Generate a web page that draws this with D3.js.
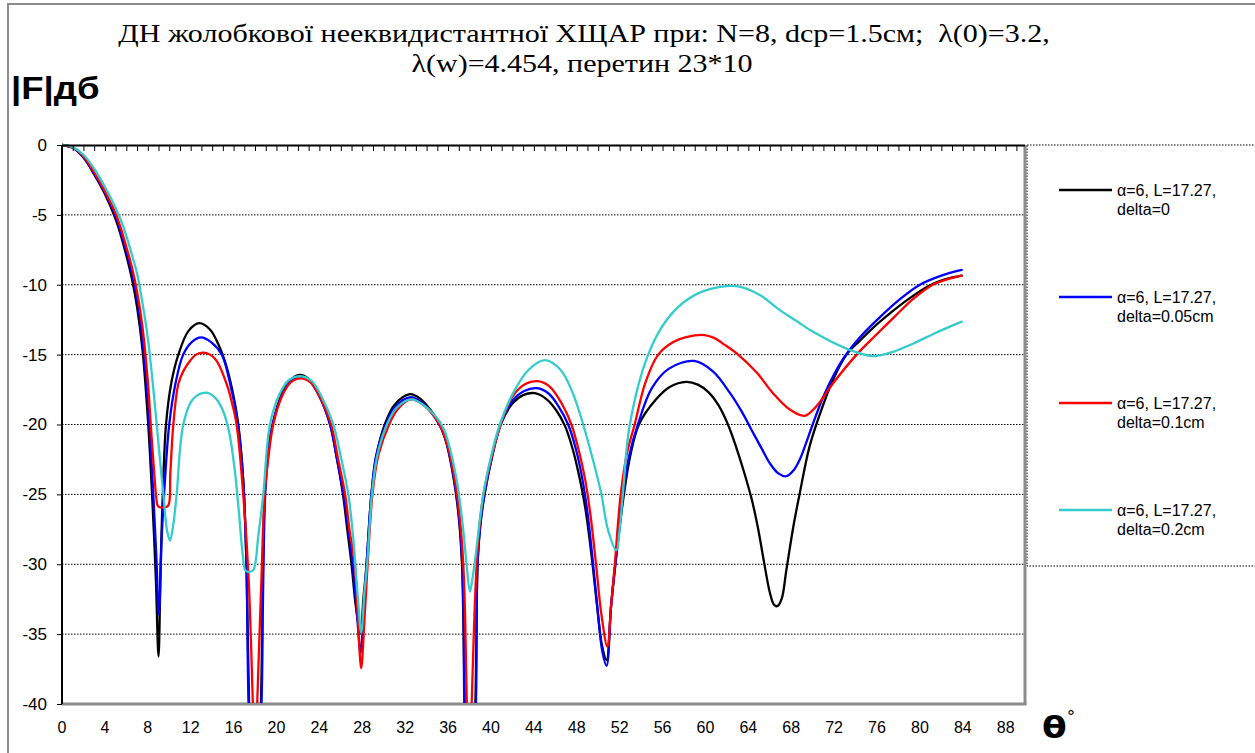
<!DOCTYPE html>
<html>
<head>
<meta charset="utf-8">
<script src="https://cdn.jsdelivr.net/npm/d3@7"></script>
<style>
  html, body { margin: 0; padding: 0; background: #fff; }
  svg { display: block; }
</style>
</head>
<body>
<svg id="chart" width="1255" height="753"></svg>
<script>
// ---------------- DATA ----------------
const titleLines = ["ДН жолобкової нееквидистантної ХЩАР при: N=8, dcp=1.5см;  λ(0)=3.2,", "λ(w)=4.454, перетин 23*10"];
const yLabel = "|F|дб";
const xTickValues = [0,4,8,12,16,20,24,28,32,36,40,44,48,52,56,60,64,68,72,76,80,84,88];
const yTickValues = [0,-5,-10,-15,-20,-25,-30,-35,-40];
const seriesNames = [["α=6, L=17.27,", "delta=0"], ["α=6, L=17.27,", "delta=0.05cm"], ["α=6, L=17.27,", "delta=0.1cm"], ["α=6, L=17.27,", "delta=0.2cm"]];
const seriesColors = ["#000000", "#0000ff", "#ff0000", "#33cccc"];

// [theta (deg), |F| dB]
const delta0 = [[0,0],[1,-0.2],[2,-0.9],[3,-2.1],[4,-3.5],[5,-5.3],[5.5,-6.5],[6,-7.9],[6.5,-9.5],[7,-11.6],[7.5,-14.6],[8,-19.5],[8.4,-25],[8.75,-31],[9.0,-36.6],[9.2,-30],[9.4,-25],[9.7,-20],[10.2,-17],[10.85,-15],[11.8,-13.3],[12.8,-12.75],[13.8,-13.2],[14.6,-14.3],[15.2,-15.5],[15.9,-17.6],[16.44,-20],[16.9,-24],[17.2,-30],[17.45,-40],[17.9,-52],[18.55,-40],[18.7,-32],[18.9,-25],[19.2,-22],[19.64,-20],[20.5,-17.8],[21.3,-16.8],[22.2,-16.45],[23.1,-16.8],[24,-17.9],[25,-20],[25.6,-22.3],[26.2,-25],[26.6,-27.5],[27.0,-30],[27.4,-33],[27.84,-34.95],[28.1,-32.5],[28.4,-30],[28.85,-25],[29.3,-22.3],[30.1,-20],[31,-18.6],[32.44,-17.83],[33.4,-18.15],[34.4,-19.0],[35.0,-19.7],[35.4,-20.3],[35.8,-21.2],[36.2,-22.5],[36.55,-24.0],[36.85,-25.6],[37.1,-27.5],[37.3,-30],[37.45,-35],[37.55,-40],[38.0,-55],[38.55,-40],[38.75,-30],[39.0,-27.2],[39.4,-25],[40.1,-22.3],[40.9,-20],[42,-18.5],[43,-17.9],[44.1,-17.76],[45.2,-18.2],[46.1,-19.0],[46.9,-20.1],[47.6,-21.7],[48.2,-23.6],[48.8,-26.0],[49.4,-29.5],[49.9,-33],[50.35,-35.8],[50.78,-36.84],[51.2,-33],[51.6,-30],[52.4,-25],[53.0,-22.2],[53.8,-20],[55.4,-18.2],[56.7,-17.3],[58.2,-16.95],[59.3,-17.15],[60.3,-17.7],[61.2,-18.6],[62.1,-20],[62.9,-21.7],[63.6,-23.4],[64.3,-25.3],[64.9,-27.4],[65.5,-30.0],[66.0,-32.0],[66.4,-32.9],[66.7,-33.0],[67.1,-32.5],[67.55,-30.4],[68.2,-27.3],[68.8,-24.9],[69.7,-21.6],[70.7,-19.2],[71.9,-16.8],[73.15,-15],[74.4,-14.0],[75.6,-13.1],[77.2,-12.05],[78.7,-11.15],[80.9,-10.05],[82.4,-9.6],[83.9,-9.35]];

const delta005 = [[0,0],[1,-0.2],[2,-0.85],[3,-2.05],[4,-3.4],[5,-5.1],[5.5,-6.3],[6,-7.6],[6.5,-9.1],[7,-11.0],[7.5,-13.9],[8,-18.3],[8.5,-24.8],[8.8,-29.5],[9.04,-33.6],[9.3,-28],[9.6,-24],[10.0,-20],[10.6,-17],[11.3,-15],[12.1,-14.1],[12.96,-13.76],[13.9,-14.1],[14.9,-15],[15.6,-16.8],[16.4,-20],[16.9,-24],[17.2,-30],[17.4,-40],[17.95,-50],[18.6,-40],[18.75,-32],[18.95,-25],[19.25,-22],[19.64,-20],[20.5,-17.9],[21.3,-16.9],[22.2,-16.55],[23.1,-16.9],[24,-18],[25,-20],[25.6,-22.3],[26.25,-25],[26.7,-27.5],[27.1,-30],[27.5,-33.5],[27.84,-36.36],[28.15,-33],[28.4,-30],[28.85,-25],[29.3,-22.2],[30.2,-20],[31,-18.8],[32.5,-18.05],[33.5,-18.4],[34.5,-19.2],[35.1,-19.9],[35.5,-20.5],[35.9,-21.4],[36.25,-22.6],[36.6,-24.1],[36.9,-25.7],[37.15,-27.7],[37.35,-30.5],[37.45,-34],[37.52,-40],[38.05,-52],[38.6,-40],[38.75,-30],[39.0,-27.3],[39.4,-25],[40.1,-22.3],[40.9,-20],[42,-18.3],[43.1,-17.6],[44.3,-17.4],[45.4,-17.8],[46.3,-18.7],[47.2,-20],[47.9,-21.7],[48.5,-23.8],[49.0,-26.3],[49.5,-29.8],[49.95,-33.3],[50.4,-36.3],[50.78,-37.27],[51.2,-33],[51.6,-30],[52.3,-25],[52.9,-22.2],[53.7,-20],[55,-17.4],[56.6,-16.0],[58.95,-15.45],[60.7,-16.2],[62.3,-17.76],[63.4,-19.1],[64.45,-20.6],[65.3,-21.8],[66.0,-22.77],[66.8,-23.5],[67.55,-23.7],[68.2,-23.3],[68.8,-22.5],[69.4,-21.3],[70.0,-20],[71.0,-18.0],[72.0,-16.4],[73.2,-14.9],[74.6,-13.6],[76.3,-12.3],[78.2,-11.0],[80.0,-10],[82,-9.35],[83.9,-8.94]];

const delta01 = [[0,0],[1,-0.18],[2,-0.8],[3,-1.95],[4,-3.3],[5,-4.9],[5.5,-6.0],[6,-7.3],[6.5,-8.7],[7,-10.5],[7.5,-13.0],[8,-16.9],[8.3,-20.3],[8.6,-23.5],[8.8,-25.3],[8.95,-25.85],[9.4,-25.95],[9.9,-25.8],[10.1,-23.5],[10.38,-20],[10.85,-17.1],[11.3,-16.2],[11.93,-15.45],[12.5,-15.0],[13.17,-14.85],[13.8,-15.0],[14.42,-15.45],[15.35,-17.1],[15.8,-18.3],[16.28,-20],[16.9,-25],[17.4,-31],[17.8,-40],[18.0,-45],[18.2,-40],[18.6,-31],[18.9,-25],[19.3,-22],[19.7,-20],[20.5,-18],[21.3,-17],[22.25,-16.7],[23.2,-17],[24.1,-18.1],[25.1,-20],[25.7,-22.3],[26.4,-25],[26.8,-27.5],[27.3,-30],[27.6,-34],[27.9,-37.43],[28.2,-34],[28.5,-30],[28.95,-25],[29.5,-22.2],[30.5,-20],[31.3,-18.9],[32.55,-18.2],[33.6,-18.55],[34.6,-19.3],[35.2,-20.0],[35.6,-20.7],[36.0,-21.6],[36.35,-22.8],[36.7,-24.3],[37.0,-26.0],[37.25,-28],[37.45,-30.5],[37.6,-34],[37.75,-40],[38.0,-45],[38.2,-40],[38.6,-31],[38.9,-27.5],[39.3,-25],[40.1,-22.2],[40.9,-20],[42,-18],[43.2,-17.1],[44.4,-16.9],[45.5,-17.3],[46.6,-18.5],[47.5,-20],[48.2,-21.9],[48.8,-24],[49.3,-26.6],[49.8,-30],[50.3,-33.6],[50.85,-35.9],[51.2,-33],[51.55,-30],[52.1,-25],[52.7,-22],[53.4,-20],[54.4,-17],[55.6,-15],[57,-14.1],[58.2,-13.75],[59.9,-13.6],[60.8,-13.8],[61.8,-14.3],[63.05,-15],[64.8,-16.3],[66.3,-17.76],[67.9,-18.95],[69.26,-19.38],[70.35,-18.7],[71.9,-17.05],[74.1,-15],[75.9,-13.6],[77.65,-12.28],[79.4,-11],[81.2,-10],[82.6,-9.6],[83.9,-9.35]];

const delta02 = [[0,0],[1,-0.15],[2,-0.7],[3,-1.7],[4,-3.0],[5,-4.5],[5.5,-5.4],[6,-6.5],[6.5,-7.8],[7,-9.2],[7.5,-11.3],[8,-13.8],[8.5,-17.3],[8.83,-20],[9.15,-22.6],[9.45,-25],[9.8,-27.6],[10.07,-28.3],[10.35,-27.3],[10.69,-25],[11.31,-20],[12.2,-18.2],[13.4,-17.72],[14.3,-18.1],[15.0,-19.0],[15.6,-20.6],[16.1,-23.2],[16.5,-26.3],[16.85,-29.3],[17.1,-30.45],[17.45,-30.55],[17.85,-30.4],[18.3,-28],[18.77,-25],[19.39,-20],[20.3,-17.8],[21.2,-16.8],[22.4,-16.55],[23.3,-16.9],[24.2,-18],[25.3,-20],[26.0,-22.3],[26.7,-25],[27.2,-28.5],[27.6,-32.5],[27.9,-34.9],[28.2,-32],[28.45,-30],[28.9,-25],[29.4,-22.2],[30.3,-20],[31.2,-18.8],[32.6,-18.2],[33.7,-18.6],[34.7,-19.3],[35.3,-19.9],[35.7,-20.5],[36.1,-21.5],[36.5,-22.8],[36.85,-24.2],[37.15,-25.8],[37.45,-27.8],[37.75,-30.2],[38.04,-31.95],[38.3,-30.9],[38.6,-29.2],[39.0,-26.6],[39.4,-24.5],[40.1,-22.0],[40.83,-20],[42.1,-17.7],[43.5,-16.1],[45.03,-15.4],[46.5,-16.1],[47.6,-17.7],[48.6,-20],[49.5,-22.5],[50.3,-25],[50.9,-27.5],[51.7,-29.0],[52.0,-27.5],[52.3,-25],[52.95,-20],[54.66,-15],[56.4,-12.5],[58.5,-10.97],[60.5,-10.3],[62.9,-10.1],[65.07,-10.73],[66.9,-11.8],[68.5,-12.6],[70.0,-13.35],[73.1,-14.55],[75.6,-15.1],[77.5,-14.8],[79.4,-14.2],[81.6,-13.4],[83.9,-12.64]];

const seriesData = [delta0, delta005, delta01, delta02];

// ---------------- LAYOUT ----------------
const svg = d3.select("#chart");
const plot = { left: 62, top: 145, right: 1025, bottom: 704 };

const x = d3.scaleLinear().domain([0, 89.8]).range([plot.left, plot.right]);
const y = d3.scaleLinear().domain([-40, 0]).range([plot.bottom, plot.top]);

// outer chart border
svg.append("rect").attr("x", 8).attr("y", 4).attr("width", 1270).attr("height", 780)
  .attr("fill", "none").attr("stroke", "#8c8c8c").attr("stroke-width", 2);

// title (horizontally fitted to the reference span)
const title = svg.append("g").attr("font-family", "'Liberation Serif', 'Times New Roman', serif").attr("fill", "#000");
const titlePos = [[584, 42], [582, 72]];
const titleTexts = titleLines.map((t, i) => title.append("text")
  .attr("text-anchor", "middle").attr("font-size", 25).style("white-space", "pre")
  .attr("transform", `translate(${titlePos[i][0]},${titlePos[i][1]})`).text(t));
const tw = titleTexts[0].node().getComputedTextLength();
const sx = 932 / tw;
titleTexts.forEach((t, i) => t.attr("transform", `translate(${titlePos[i][0]},${titlePos[i][1]}) scale(${sx},1)`));

// y axis label
svg.append("text").attr("transform", "translate(11,99) scale(1.18,1)")
  .attr("font-family", "'Liberation Sans', Arial, sans-serif").attr("font-weight", "bold").attr("font-size", 31)
  .text(yLabel);

// gridlines
svg.append("g").selectAll("line").data(yTickValues.filter(v => v !== 0 && v !== -40)).join("line")
  .attr("x1", plot.left).attr("x2", plot.right)
  .attr("y1", d => y(d)).attr("y2", d => y(d))
  .attr("stroke", "#000").attr("stroke-width", 1).attr("stroke-dasharray", "1.5,1.5");

// legend box (dotted)
svg.append("rect").attr("x", plot.right + 2).attr("y", plot.top).attr("width", 300).attr("height", 421)
  .attr("fill", "none").attr("stroke", "#000").attr("stroke-width", 1).attr("stroke-dasharray", "1.5,1.5");

// plot frame right & bottom (gray)
svg.append("line").attr("x1", plot.right).attr("x2", plot.right).attr("y1", plot.top).attr("y2", plot.bottom + 1)
  .attr("stroke", "#8c8c8c").attr("stroke-width", 3);
svg.append("line").attr("x1", plot.left).attr("x2", plot.right + 1.5).attr("y1", plot.bottom).attr("y2", plot.bottom)
  .attr("stroke", "#8c8c8c").attr("stroke-width", 3);

// clip
svg.append("clipPath").attr("id", "clip").append("rect")
  .attr("x", plot.left).attr("y", plot.top - 3).attr("width", plot.right - plot.left).attr("height", plot.bottom - plot.top + 2);

// curves
const line = d3.line().x(d => x(d[0])).y(d => y(d[1])).curve(d3.curveCatmullRom.alpha(0.5));
const curves = svg.append("g").attr("clip-path", "url(#clip)");
seriesData.forEach((s, i) => {
  curves.append("path").datum(s).attr("d", line)
    .attr("fill", "none").attr("stroke", seriesColors[i]).attr("stroke-width", 2.3)
    .attr("stroke-linejoin", "round").attr("stroke-linecap", "round");
});

// x axis on top (ticks every degree, downward), labels at bottom
const xAxis = d3.axisBottom(x).tickValues(d3.range(0, 90, 1)).tickSize(6).tickFormat("");
const gx = svg.append("g").attr("transform", `translate(0,${plot.top})`).call(xAxis);
gx.select(".domain").attr("d", `M${plot.left},0.5H${plot.right}`).attr("stroke", "#000").attr("stroke-width", 2);
gx.selectAll(".tick line").attr("stroke", "#000").attr("stroke-width", 1);

svg.append("g").selectAll("text").data(xTickValues).join("text")
  .attr("x", d => x(d)).attr("y", 733)
  .attr("text-anchor", "middle")
  .attr("font-family", "'Liberation Sans', Arial, sans-serif").attr("font-size", 16)
  .text(d => d);

// y axis
const yAxis = d3.axisLeft(y).tickValues(yTickValues).tickSize(5).tickPadding(10).tickFormat(d => String(d));
const gy = svg.append("g").attr("transform", `translate(${plot.left},0)`).call(yAxis);
gy.select(".domain").attr("d", `M0,${plot.top}V${plot.bottom}`).attr("stroke", "#000").attr("stroke-width", 2);
gy.selectAll(".tick line").attr("stroke", "#000");
gy.selectAll(".tick text").attr("font-family", "'Liberation Sans', Arial, sans-serif").attr("font-size", 17).attr("fill", "#000");

// x axis label θ°
const th = svg.append("text").attr("transform", "translate(1042,738) scale(1.2,1)")
  .attr("font-family", "'DejaVu Sans', 'Liberation Sans', sans-serif").attr("font-weight", "bold").attr("font-size", 30);
th.append("tspan").text("θ");
th.append("tspan").attr("font-size", 14).attr("font-weight", "normal").attr("dy", -17).text("°");

// legend
const lg = svg.append("g");
const legendY = [190, 297, 403, 510];
seriesNames.forEach((nm, i) => {
  const g = lg.append("g").attr("transform", `translate(0,${legendY[i]})`);
  g.append("line").attr("x1", 1059).attr("x2", 1112).attr("y1", 0).attr("y2", 0)
    .attr("stroke", seriesColors[i]).attr("stroke-width", 2.3);
  const t = g.append("text").attr("font-family", "'Liberation Sans', Arial, sans-serif").attr("font-size", 16).attr("fill", "#000");
  t.append("tspan").attr("x", 1117).attr("y", 6).text(nm[0]);
  t.append("tspan").attr("x", 1117).attr("y", 25).text(nm[1]);
});
</script>
</body>
</html>
